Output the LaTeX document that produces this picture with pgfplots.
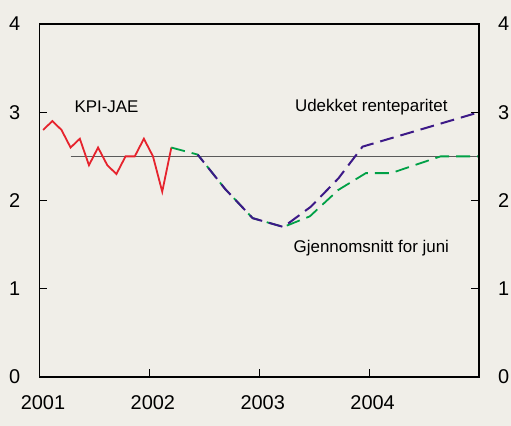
\documentclass[border=0pt]{standalone}
\usepackage{fontspec}
\setmainfont{Liberation Sans}
\usepackage{pgfplots}
\pgfplotsset{compat=1.18}
\definecolor{bg}{RGB}{240,238,232}
\definecolor{kred}{RGB}{230,35,45}
\definecolor{kblue}{RGB}{60,25,135}
\definecolor{kgreen}{RGB}{0,160,70}
\definecolor{tgray}{RGB}{90,90,90}
\begin{document}
\begin{tikzpicture}
\fill[bg] (-39.5bp,-49bp) rectangle (471.5bp,377bp);
\pgfplotsset{
  base/.style={
    scale only axis, width=439.5bp, height=353bp,
    xmin=2001, xmax=2005, ymin=0, ymax=4,
    axis line style={line width=1.3bp, black},
    major tick length=8bp,
    tick style={line width=1.1bp, black},
    tick align=inside,
    /pgf/number format/assume math mode=true,
    /pgf/number format/1000 sep={},
    tick label style={font=\fontsize{20}{24}\selectfont, inner sep=0pt},
    ytick={0,1,2,3,4},
  }
}
\begin{axis}[base,
  xtick={2001,2002,2003,2004},
  xtick pos=lower, ytick pos=left,
  xticklabel style={anchor=north, yshift=-18bp, xshift=3.5bp},
  yticklabel style={anchor=east, xshift=-19bp},
  clip=false,
]
\addplot[tgray, line width=1bp] coordinates {(2001.283,2.5) (2005,2.5)};
\addplot[kred, line width=1.8bp] coordinates {
(2001.033,2.8) (2001.117,2.9) (2001.2,2.8) (2001.283,2.6) (2001.367,2.7)
(2001.45,2.4) (2001.533,2.6) (2001.617,2.4) (2001.7,2.3) (2001.783,2.5)
(2001.867,2.5) (2001.95,2.7) (2002.033,2.5) (2002.117,2.1) (2002.2,2.6)};
\addplot[kgreen, line width=1.8bp, dash pattern=on 14bp off 7bp, dash phase=0bp] coordinates {
(2002.2,2.6) (2002.44,2.52) (2002.69,2.13) (2002.94,1.80) (2003.22,1.70)
(2003.46,1.82) (2003.72,2.12) (2003.97,2.31) (2004.20,2.31) (2004.65,2.50) (2005.0,2.50)};
\addplot[kblue, line width=2bp, dash pattern=on 14bp off 7bp, dash phase=4bp] coordinates {
(2002.44,2.52) (2002.69,2.13) (2002.94,1.80) (2003.22,1.70) (2003.47,1.93)
(2003.72,2.25) (2003.94,2.61) (2005.0,3.0)};
\node[font=\fontsize{17}{20}\selectfont] at (axis cs:2001.61,3.06) {KPI-JAE};
\node[font=\fontsize{17}{20}\selectfont] at (axis cs:2004.02,3.06) {Udekket renteparitet};
\node[font=\fontsize{17}{20}\selectfont] at (axis cs:2004.02,1.46) {Gjennomsnitt for juni};
\end{axis}
\begin{axis}[base,
  axis y line*=right, axis x line=none,
  yticklabel style={anchor=west, xshift=19bp},
]
\addplot[draw=none] coordinates {(2001,0)};
\end{axis}
\pgfresetboundingbox
\path (-39.5bp,-49bp) rectangle (471.5bp,377bp);
\end{tikzpicture}
\end{document}
